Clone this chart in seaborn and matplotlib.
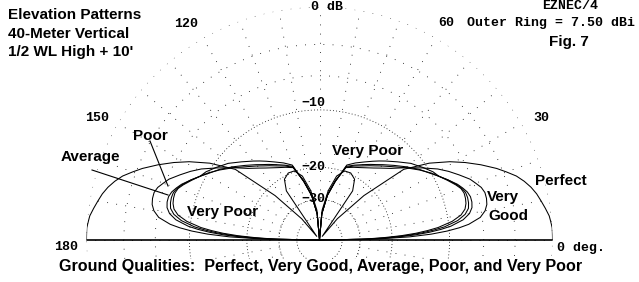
import numpy as np
import pandas as pd
import matplotlib
matplotlib.use("Agg")
import matplotlib.pyplot as plt
import seaborn as sns
from matplotlib.patches import Rectangle
from matplotlib.lines import Line2D

# ---------------- data (elevation angle in degrees, gain in dBi) ----------------
ANGLES = [0, 1, 2, 3, 4, 5, 6, 8, 10, 12, 14, 16, 18, 20, 22, 25, 28, 31, 35, 40,
          45, 50, 53, 56, 60, 65, 70, 75, 80, 85, 90]
PERFECT = [7.5, 7.5, 7.5, 7.5, 7.45, 7.4, 7.35, 7.13, 6.9, 6.67, 6.36, 5.96, 5.47, 4.79,
           4.09, 2.88, 1.58, 0.17, -2.0, -5.4, -15.0, -29.0, -60.0, -16.0, -13.1, -12.2,
           -12.3, -14.1, -18.9, -27.7, -99.0]
VERY_GOOD = [-99.0, -16.4, -8.8, -5.1, -2.8, -1.2, -0.05, 1.3, 1.9, 2.2, 2.3, 2.3, 2.1, 1.7,
             1.3, 0.4, -0.5, -1.5, -3.1, -5.0, -6.8, -8.1, -8.8, -9.4, -10.1, -10.8, -11.5,
             -15.3, -20.3, -30.0, -99.0]
AVERAGE = [-99.0, -18.9, -12.0, -7.9, -5.4, -3.6, -2.25, -0.64, 0.2, 0.6, 0.73, 0.73, 0.55,
           0.2, -0.2, -1.0, -1.8, -2.5, -3.6, -5.0, -6.4, -7.6, -8.3, -8.9, -9.7, -10.5,
           -11.4, -15.5, -20.5, -30.0, -99.0]
POOR = [-99.0, -20.5, -13.5, -9.2, -6.5, -4.6, -3.1, -1.3, -0.3, 0.2, 0.35, 0.4, 0.35, 0.1,
        -0.3, -1.0, -1.8, -2.6, -3.5, -4.8, -6.1, -7.3, -8.0, -8.6, -9.4, -10.3, -11.2,
        -15.6, -20.6, -30.0, -99.0]
VERY_POOR = [-99.0, -22.0, -15.0, -10.5, -7.6, -5.6, -4.0, -2.0, -0.8, -0.2, 0.05, 0.15, 0.17,
             0.0, -0.4, -1.1, -1.8, -2.2, -3.0, -4.0, -5.3, -6.5, -7.2, -7.9, -8.8, -9.8,
             -10.9, -15.7, -20.7, -30.0, -99.0]
SERIES = {"Perfect": PERFECT, "Very Good": VERY_GOOD, "Average": AVERAGE,
          "Poor": POOR, "Very Poor": VERY_POOR}
OUTER_RING_DBI = 7.5
GRID_DB = [0, -3, -6, -10, -20, -30, -40]
RING_LABELS = [-10, -20, -30]


def arrl_radius(gain_dbi):
    """ARRL log scale: each 2 dB step multiplies radius by 0.89."""
    return 0.89 ** ((OUTER_RING_DBI - np.asarray(gain_dbi, dtype=float)) / 2.0)


rows = []
for name, gains in SERIES.items():
    ang = np.array(ANGLES, dtype=float)
    g = np.array(gains, dtype=float)
    full_ang = np.concatenate([ang, 180.0 - ang[::-1]])
    full_g = np.concatenate([g, g[::-1]])
    for a, gg in zip(full_ang, full_g):
        rows.append({"ground": name, "theta": np.radians(a), "r": float(arrl_radius(gg))})
df = pd.DataFrame(rows)

# ---------------- figure / axes ----------------
W, H = 639, 282
CX, CY, R = 319.5, 240.0, 233.0
fig = plt.figure(figsize=(W / 100, H / 100), dpi=100)
fig.patch.set_facecolor("white")
ax = fig.add_axes([(CX - R) / W, (H - CY - R) / H, 2 * R / W, 2 * R / H], projection="polar")
ax.set_ylim(0, 1)
ax.set_xticks([])
ax.set_yticks([])
ax.grid(False)
ax.spines["polar"].set_visible(False)
ax.patch.set_alpha(0)

# dotted grid
t = np.linspace(0, 2 * np.pi, 1441)
for db in GRID_DB:
    rr = float(arrl_radius(OUTER_RING_DBI + db))
    dense = db <= -10
    ax.plot(t, np.full_like(t, rr), color="black", lw=0.6,
            dashes=(1, 2.8) if dense else (1, 10), zorder=1)
r_in = float(arrl_radius(OUTER_RING_DBI - 30))
for a in range(0, 360, 10):
    ax.plot([np.radians(a)] * 2, [r_in, 1.0], color="black", lw=0.6, dashes=(1, 10), zorder=1)

# ground line
ax.plot([np.pi, np.pi, 0, 0], [1, 0, 0, 1], color="black", lw=1.2, zorder=3)

# pattern curves
sns.lineplot(data=df, x="theta", y="r", units="ground", estimator=None, sort=False,
             color="black", lw=0.75, ax=ax, legend=False, zorder=4)
ax.set_xlabel("")
ax.set_ylabel("")
ax.set_xticks([])
ax.set_yticks([])
ax.set_ylim(0, 1)

# mask below plot area
fig.add_artist(Rectangle((0, 0), 1, (H - 259) / H, transform=fig.transFigure,
                         facecolor="white", edgecolor="none", zorder=2))


def T(x, y, s, **kw):
    kw.setdefault("zorder", 5)
    fig.text(x / W, 1 - y / H, s, **kw)


SANS = dict(family="Liberation Sans", weight="bold", fontsize=11)
MONO = dict(family="Liberation Mono", weight="bold", fontsize=9.5)

T(8, 15, "Elevation Patterns", ha="left", va="center", **SANS)
T(8, 34, "40-Meter Vertical", ha="left", va="center", **SANS)
T(8, 52, "1/2 WL High + 10'", ha="left", va="center", **SANS)
T(569, 42, "Fig. 7", ha="center", va="center", **SANS)
T(570, 6, "EZNEC/4", ha="center", va="center", **MONO)
T(551, 23, "Outer Ring = 7.50 dBi", ha="center", va="center", **MONO)
T(327, 7, "0 dB", ha="center", va="center", **MONO)
T(186, 24, "120", ha="center", va="center", **MONO)
T(446, 23, "60", ha="center", va="center", **MONO)
T(97, 118, "150", ha="center", va="center", **MONO)
T(541, 118, "30", ha="center", va="center", **MONO)
T(66, 247, "180", ha="center", va="center", **MONO)
T(557, 248, "0 deg.", ha="left", va="center", **MONO)
for lab, yy in zip(RING_LABELS, [103, 167, 199]):
    T(313, yy, f"\u2212{abs(lab)}", ha="center", va="center", **MONO)

T(150, 136, "Poor", ha="center", va="center", **SANS)
T(90, 157, "Average", ha="center", va="center", **SANS)
T(223, 212, "Very Poor", ha="center", va="center", **SANS)
T(368, 151, "Very Poor", ha="center", va="center", **SANS)
T(561, 181, "Perfect", ha="center", va="center", **SANS)
T(487, 197, "Very", ha="left", va="center", **SANS)
T(488, 216, "Good", ha="left", va="center", **SANS)
T(321, 266, "Ground Qualities:  Perfect, Very Good, Average, Poor, and Very Poor",
  ha="center", va="center", family="Liberation Sans", weight="bold", fontsize=11.6)

# pointer lines
for (x0, y0, x1, y1) in [(92, 170, 168, 195), (150, 141, 168, 186)]:
    fig.add_artist(Line2D([x0 / W, x1 / W], [1 - y0 / H, 1 - y1 / H],
                          transform=fig.transFigure, color="black", lw=0.8, zorder=5))

fig.savefig("out.png", dpi=100, facecolor="white")
